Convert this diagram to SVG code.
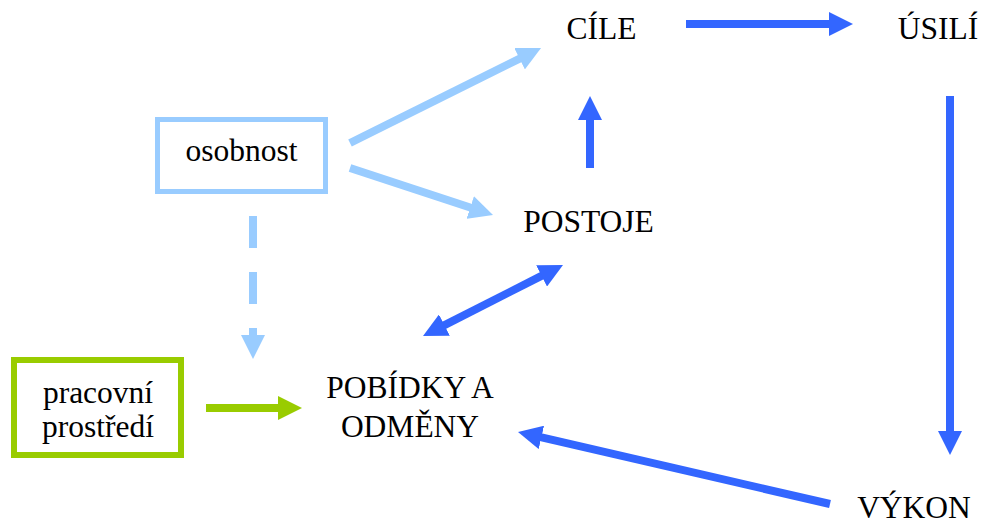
<svg xmlns="http://www.w3.org/2000/svg" width="982" height="522" viewBox="0 0 982 522">
<defs>
<style>
.t{font-family:"Liberation Serif","Times New Roman",serif;font-size:31.5px;fill:#000;text-anchor:middle}
.lb{stroke:#99CCFF;stroke-width:8;fill:none}
.b{stroke:#3366FF;stroke-width:8;fill:none}
.g{stroke:#99CC00;stroke-width:8;fill:none}
</style>
<marker id="hb" markerUnits="userSpaceOnUse" viewBox="0 0 24 24" markerWidth="24" markerHeight="24" refX="12" refY="12" orient="auto-start-reverse"><path d="M0,0 L24,12 L0,24 z" fill="#3366FF"/></marker>
<marker id="hl" markerUnits="userSpaceOnUse" viewBox="0 0 24 24" markerWidth="24" markerHeight="24" refX="12" refY="12" orient="auto"><path d="M0,0 L24,12 L0,24 z" fill="#99CCFF"/></marker>
<marker id="hg" markerUnits="userSpaceOnUse" viewBox="0 0 24 24" markerWidth="24" markerHeight="24" refX="12" refY="12" orient="auto"><path d="M0,0 L24,12 L0,24 z" fill="#99CC00"/></marker>
</defs>
<rect width="982" height="522" fill="#fff"/>
<g id="connectors">
<line class="b" x1="686" y1="24" x2="841" y2="24" marker-end="url(#hb)"/>
<line class="b" x1="950" y1="96" x2="950" y2="443" marker-end="url(#hb)"/>
<line class="b" x1="830" y1="504" x2="529.7" y2="434.7" marker-end="url(#hb)"/>
<line class="b" x1="590" y1="168" x2="590" y2="108" marker-end="url(#hb)"/>
<line class="b" x1="433.7" y1="330.6" x2="552.3" y2="270.4" marker-start="url(#hb)" marker-end="url(#hb)"/>
<line class="lb" x1="350" y1="143" x2="530.3" y2="53.3" marker-end="url(#hl)"/>
<line class="lb" x1="350" y1="168" x2="481.6" y2="211.3" marker-end="url(#hl)"/>
<line class="lb" x1="253" y1="216" x2="253" y2="347" stroke-dasharray="32 24" marker-end="url(#hl)"/>
<line class="g" x1="206" y1="408" x2="290" y2="408" marker-end="url(#hg)"/>
</g>
<g id="osobnost">
<rect x="157.5" y="119.5" width="168" height="72" fill="none" stroke="#99CCFF" stroke-width="5"/>
<text class="t" x="241.5" y="161">osobnost</text>
</g>
<g id="prostredi">
<rect x="14" y="360" width="167" height="95" fill="none" stroke="#99CC00" stroke-width="6"/>
<text class="t" x="98" y="403">pracovní</text>
<text class="t" x="98" y="437">prostředí</text>
</g>
<g id="cile"><text class="t" x="601.5" y="39">CÍLE</text></g>
<g id="usili"><text class="t" x="938" y="39">ÚSILÍ</text></g>
<g id="postoje"><text class="t" x="588.5" y="232">POSTOJE</text></g>
<g id="pobidky">
<text class="t" x="410" y="398">POBÍDKY A</text>
<text class="t" x="410" y="437">ODMĚNY</text>
</g>
<g id="vykon"><text class="t" x="914" y="518">VÝKON</text></g>
</svg>
